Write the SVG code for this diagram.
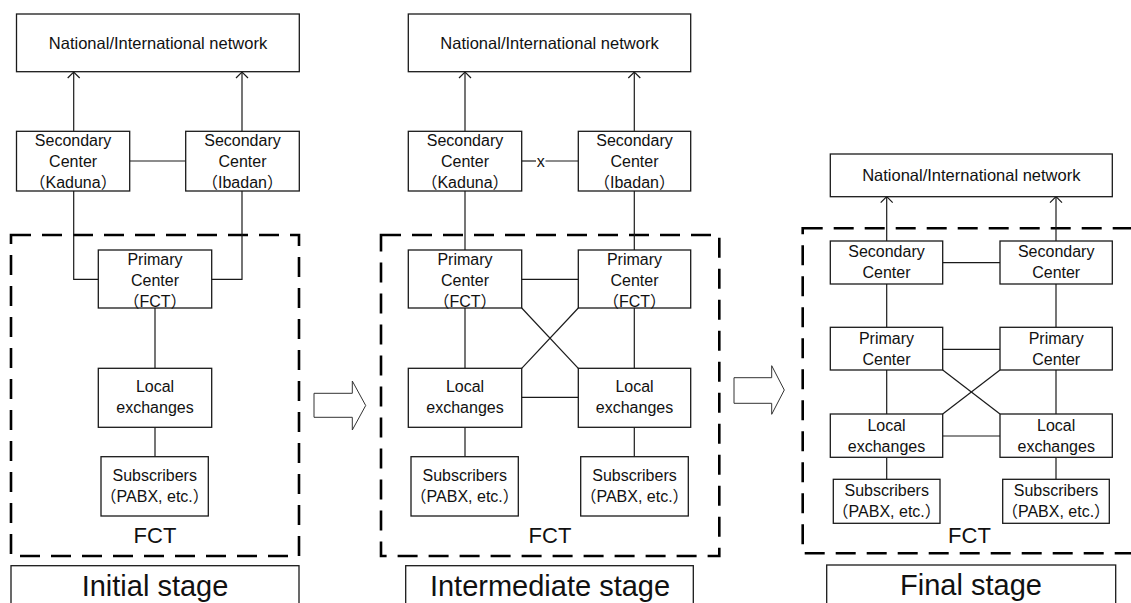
<svg xmlns="http://www.w3.org/2000/svg" width="1131" height="603" viewBox="0 0 1131 603">
  <defs>
    <style>
      .box { fill: #fff; stroke: #1a1a1a; stroke-width: 1.3; }
      .area { fill: none; stroke: #000; stroke-width: 2.6; stroke-dasharray: 20 11; }
      .stage { fill: #fff; stroke: #1a1a1a; stroke-width: 1.3; }
      .wire { fill: none; stroke: #1a1a1a; stroke-width: 1.2; }
      .up { marker-end: url(#chev); }
      .step { fill: #fff; stroke: #333; stroke-width: 1; }
      text { font-family: "Liberation Sans", "Noto Sans CJK JP", sans-serif; fill: #111; text-anchor: middle; }
      .t { font-size: 16px; }
      .nat { font-size: 16.5px; }
      .fct { font-size: 22px; }
      .stg { font-size: 29px; }
    </style>
    <marker id="chev" viewBox="-8 -8 10 16" refX="0" refY="0" markerWidth="10" markerHeight="16" markerUnits="userSpaceOnUse" orient="auto" overflow="visible">
      <path d="M-6,-6 L0,0 L-6,6" fill="none" stroke="#1a1a1a" stroke-width="1.2"/>
    </marker>
  </defs>

  <rect width="1131" height="603" fill="#fff"/>

  <!-- ===== Initial stage ===== -->
  <g id="initial-area"><rect class="area" x="11" y="235" width="288" height="321"/><text class="fct" x="155" y="543">FCT</text></g>
  <g id="initial-stage"><rect class="stage" x="11" y="565.7" width="288" height="50"/><text class="stg" x="155" y="596">Initial stage</text></g>

  <!-- ===== Intermediate stage ===== -->
  <g id="inter-area"><rect class="area" x="381" y="235" width="338.3" height="321"/><text class="fct" x="550" y="543">FCT</text></g>
  <g id="inter-stage"><rect class="stage" x="405.7" y="565.7" width="287.6" height="50"/><text class="stg" x="550" y="596">Intermediate stage</text></g>

  <!-- ===== Final stage ===== -->
  <g id="final-area"><rect class="area" x="802.7" y="228.3" width="360" height="325"/><text class="fct" x="969.5" y="542.5">FCT</text></g>
  <g id="final-stage"><rect class="stage" x="826.7" y="565" width="289" height="50"/><text class="stg" x="971" y="595">Final stage</text></g>

  <!-- connectors -->
  <g id="connectors">
    <!-- initial -->
    <line class="wire up" x1="73.7" y1="131.3" x2="73.7" y2="72"/>
    <line class="wire up" x1="242" y1="131.3" x2="242" y2="72"/>
    <line class="wire" x1="129.7" y1="161" x2="185.7" y2="161"/>
    <polyline class="wire" points="73.7,191 73.7,279.3 98.3,279.3"/>
    <polyline class="wire" points="242,191 242,279.3 211.7,279.3"/>
    <line class="wire" x1="155" y1="308" x2="155" y2="368.3"/>
    <line class="wire" x1="155" y1="427.3" x2="155" y2="456.7"/>

    <!-- intermediate -->
    <line class="wire up" x1="465" y1="131.3" x2="465" y2="72"/>
    <line class="wire up" x1="634.3" y1="131.3" x2="634.3" y2="72"/>
    <line class="wire" x1="521.7" y1="161" x2="536" y2="161"/>
    <line class="wire" x1="545.5" y1="161" x2="578.3" y2="161"/>
    <text class="t" x="540.7" y="166.5">x</text>
    <line class="wire" x1="465" y1="191" x2="465" y2="250"/>
    <line class="wire" x1="634.3" y1="191" x2="634.3" y2="250"/>
    <line class="wire" x1="521.7" y1="279.3" x2="578.3" y2="279.3"/>
    <line class="wire" x1="465" y1="308" x2="465" y2="368.3"/>
    <line class="wire" x1="634.3" y1="308" x2="634.3" y2="368.3"/>
    <line class="wire" x1="521.7" y1="308" x2="578.3" y2="368.3"/>
    <line class="wire" x1="578.3" y1="308" x2="521.7" y2="368.3"/>
    <line class="wire" x1="521.7" y1="397.3" x2="578.3" y2="397.3"/>
    <line class="wire" x1="465" y1="427.3" x2="465" y2="456.7"/>
    <line class="wire" x1="634.3" y1="427.3" x2="634.3" y2="456.7"/>

    <!-- final -->
    <line class="wire up" x1="886.7" y1="241" x2="886.7" y2="196.7"/>
    <line class="wire up" x1="1056" y1="241" x2="1056" y2="196.7"/>
    <line class="wire" x1="942.7" y1="262.7" x2="1000" y2="262.7"/>
    <line class="wire" x1="886.7" y1="284" x2="886.7" y2="327.3"/>
    <line class="wire" x1="1056" y1="284" x2="1056" y2="327.3"/>
    <line class="wire" x1="942.7" y1="349.3" x2="1000" y2="349.3"/>
    <line class="wire" x1="886.7" y1="370" x2="886.7" y2="414"/>
    <line class="wire" x1="1056" y1="370" x2="1056" y2="414"/>
    <line class="wire" x1="942.7" y1="370" x2="1000" y2="414"/>
    <line class="wire" x1="1000" y1="370" x2="942.7" y2="414"/>
    <line class="wire" x1="942.7" y1="436" x2="1000" y2="436"/>
    <line class="wire" x1="886.7" y1="457.3" x2="886.7" y2="479.3"/>
    <line class="wire" x1="1056" y1="457.3" x2="1056" y2="479.3"/>
  </g>

  <!-- stage transition arrows -->
  <g id="step-arrows">
    <polygon class="step" points="314,393.3 352.3,393.3 352.3,381 365.7,405.5 352.3,430 352.3,417.3 314,417.3"/>
    <polygon class="step" points="734,377.7 771.7,377.7 771.7,365.7 784.3,390 771.7,414.3 771.7,403.3 734,403.3"/>
  </g>

  <!-- initial stage nodes -->
  <g id="i-net"><rect class="box" x="16.5" y="14" width="282.8" height="57.7"/><text class="nat" x="158" y="48.5">National/International network</text></g>
  <g id="i-sec-kaduna"><rect class="box" x="16.5" y="131.3" width="113.2" height="59.7"/>
    <text class="t" x="73.1" y="145.5">Secondary</text><text class="t" x="73.1" y="167">Center</text><text class="t" x="73.1" y="188">（Kaduna）</text></g>
  <g id="i-sec-ibadan"><rect class="box" x="185.7" y="131.3" width="113.6" height="59.7"/>
    <text class="t" x="242.5" y="145.5">Secondary</text><text class="t" x="242.5" y="167">Center</text><text class="t" x="242.5" y="188">（Ibadan）</text></g>
  <g id="i-primary"><rect class="box" x="98.3" y="250" width="113.4" height="58"/>
    <text class="t" x="155" y="265">Primary</text><text class="t" x="155" y="286">Center</text><text class="t" x="155" y="306.5">（FCT）</text></g>
  <g id="i-local"><rect class="box" x="98.3" y="368.3" width="113.4" height="59"/>
    <text class="t" x="155" y="392.3">Local</text><text class="t" x="155" y="413.3">exchanges</text></g>
  <g id="i-subs"><rect class="box" x="101" y="456.7" width="107.3" height="59.3"/>
    <text class="t" x="154.7" y="481">Subscribers</text><text class="t" x="154.7" y="502">（PABX, etc.）</text></g>

  <!-- intermediate stage nodes -->
  <g id="m-net"><rect class="box" x="408.3" y="14" width="282.4" height="57.7"/><text class="nat" x="549.5" y="48.5">National/International network</text></g>
  <g id="m-sec-kaduna"><rect class="box" x="408.3" y="131.3" width="113.4" height="59.7"/>
    <text class="t" x="465" y="145.5">Secondary</text><text class="t" x="465" y="167">Center</text><text class="t" x="465" y="188">（Kaduna）</text></g>
  <g id="m-sec-ibadan"><rect class="box" x="578.3" y="131.3" width="112.4" height="59.7"/>
    <text class="t" x="634.5" y="145.5">Secondary</text><text class="t" x="634.5" y="167">Center</text><text class="t" x="634.5" y="188">（Ibadan）</text></g>
  <g id="m-primary-a"><rect class="box" x="408.3" y="250" width="113.4" height="58"/>
    <text class="t" x="465" y="265">Primary</text><text class="t" x="465" y="286">Center</text><text class="t" x="465" y="306.5">（FCT）</text></g>
  <g id="m-primary-b"><rect class="box" x="578.3" y="250" width="112.4" height="58"/>
    <text class="t" x="634.5" y="265">Primary</text><text class="t" x="634.5" y="286">Center</text><text class="t" x="634.5" y="306.5">（FCT）</text></g>
  <g id="m-local-a"><rect class="box" x="408.3" y="368.3" width="113.4" height="59"/>
    <text class="t" x="465" y="392.3">Local</text><text class="t" x="465" y="413.3">exchanges</text></g>
  <g id="m-local-b"><rect class="box" x="578.3" y="368.3" width="112.4" height="59"/>
    <text class="t" x="634.5" y="392.3">Local</text><text class="t" x="634.5" y="413.3">exchanges</text></g>
  <g id="m-subs-a"><rect class="box" x="411" y="456.7" width="107.3" height="59.3"/>
    <text class="t" x="464.7" y="481">Subscribers</text><text class="t" x="464.7" y="502">（PABX, etc.）</text></g>
  <g id="m-subs-b"><rect class="box" x="580.7" y="456.7" width="107.6" height="59.3"/>
    <text class="t" x="634.5" y="481">Subscribers</text><text class="t" x="634.5" y="502">（PABX, etc.）</text></g>

  <!-- final stage nodes -->
  <g id="f-net"><rect class="box" x="830.3" y="154" width="282" height="42.7"/><text class="nat" x="971.3" y="180.7">National/International network</text></g>
  <g id="f-sec-a"><rect class="box" x="830.3" y="241" width="112.4" height="43"/>
    <text class="t" x="886.5" y="257.3">Secondary</text><text class="t" x="886.5" y="278.3">Center</text></g>
  <g id="f-sec-b"><rect class="box" x="1000" y="241" width="112.3" height="43"/>
    <text class="t" x="1056.2" y="257.3">Secondary</text><text class="t" x="1056.2" y="278.3">Center</text></g>
  <g id="f-primary-a"><rect class="box" x="830.3" y="327.3" width="112.4" height="42.7"/>
    <text class="t" x="886.5" y="344">Primary</text><text class="t" x="886.5" y="365">Center</text></g>
  <g id="f-primary-b"><rect class="box" x="1000" y="327.3" width="112.3" height="42.7"/>
    <text class="t" x="1056.2" y="344">Primary</text><text class="t" x="1056.2" y="365">Center</text></g>
  <g id="f-local-a"><rect class="box" x="830.3" y="414" width="112.4" height="43.3"/>
    <text class="t" x="886.5" y="430.7">Local</text><text class="t" x="886.5" y="451.7">exchanges</text></g>
  <g id="f-local-b"><rect class="box" x="1000" y="414" width="112.3" height="43.3"/>
    <text class="t" x="1056.2" y="430.7">Local</text><text class="t" x="1056.2" y="451.7">exchanges</text></g>
  <g id="f-subs-a"><rect class="box" x="833.3" y="479.3" width="106.7" height="44"/>
    <text class="t" x="886.7" y="495.7">Subscribers</text><text class="t" x="886.7" y="516.7">（PABX, etc.）</text></g>
  <g id="f-subs-b"><rect class="box" x="1002.7" y="479.3" width="106.6" height="44"/>
    <text class="t" x="1056" y="495.7">Subscribers</text><text class="t" x="1056" y="516.7">（PABX, etc.）</text></g>
</svg>
